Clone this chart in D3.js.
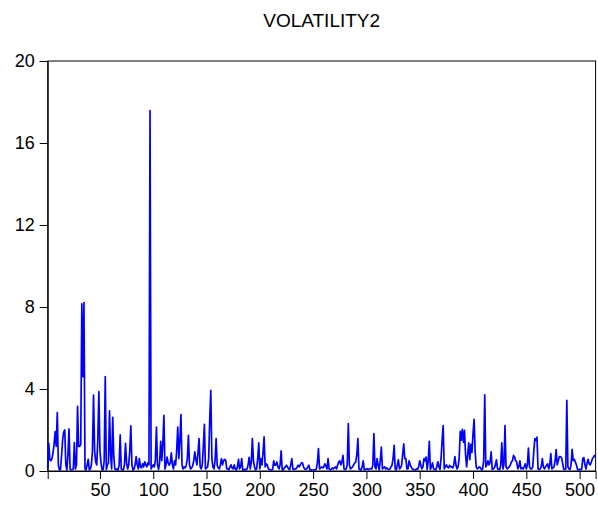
<!DOCTYPE html>
<html>
<head>
<meta charset="utf-8">
<script src="https://cdn.jsdelivr.net/npm/d3@7"></script>
<style>
  html, body { margin: 0; padding: 0; background: #ffffff; }
  svg { display: block; }
  text { font-family: "Liberation Sans", Arial, sans-serif; fill: #000; }
</style>
</head>
<body>
<svg id="chart" width="598" height="508"></svg>
<script>
// Series values, observations 1..515, split in blocks of 100
const vol001 = [
  0.15,1.35,0.55,0.5,0.6,0.9,1.3,1.92,1.2,2.85,
  0.3,0.05,0.08,0.73,1.5,1.9,2.0,0.3,0.05,0.8,
  2.05,0.1,0.05,0.06,0.1,1.38,0.1,0.3,3.15,1.2,
  1.2,1.3,8.15,4.6,8.22,0.1,0.05,0.3,0.57,0.05,
  0.1,0.3,1.0,3.7,1.0,0.45,0.3,1.5,3.87,1.0,
  0.4,0.06,0.06,0.5,4.6,0.06,0.3,0.4,2.94,0.8,
  0.1,2.62,0.7,0.1,0.05,0.1,0.05,0.3,1.76,0.1,
  0.05,0.06,0.3,1.35,0.4,0.1,0.3,1.0,2.2,0.3,
  0.05,0.1,0.3,0.7,0.3,0.1,0.6,0.2,0.15,0.35,
  0.2,0.45,0.3,0.2,0.4,0.3,17.58,0.1,0.2,0.3
];
const vol101 = [
  0.2,0.5,2.14,0.3,0.08,0.4,1.45,0.5,1.3,2.71,
  0.1,0.3,0.68,0.4,0.28,0.4,0.88,0.3,0.1,0.5,
  0.3,1.0,2.14,0.6,1.5,2.75,0.3,0.1,0.2,0.15,
  0.28,0.6,1.74,0.3,0.1,0.15,0.25,0.5,0.93,0.57,
  0.3,0.9,1.58,0.2,0.1,0.3,1.2,2.28,0.1,0.15,
  0.2,0.6,2.5,3.94,0.6,0.2,0.1,0.5,1.58,0.28,
  0.15,0.1,0.3,0.6,0.3,0.5,0.57,0.52,0.1,0.1,
  0.06,0.2,0.3,0.15,0.1,0.3,0.1,0.05,0.2,0.57,
  0.1,0.2,0.6,0.05,0.05,0.08,0.05,0.1,0.3,0.67,
  0.1,0.4,1.58,0.5,0.2,0.05,0.1,0.6,1.37,0.1
];
const vol201 = [
  0.6,0.3,0.9,1.66,0.2,0.35,0.3,0.1,0.08,0.05,
  0.05,0.06,0.5,0.28,0.3,0.44,0.2,0.1,0.3,0.98,
  0.05,0.06,0.15,0.2,0.28,0.2,0.1,0.08,0.3,0.6,
  0.1,0.08,0.1,0.1,0.2,0.28,0.2,0.3,0.4,0.4,
  0.2,0.1,0.08,0.1,0.2,0.28,0.05,0.06,0.05,0.05,
  0.06,0.05,0.1,0.4,1.09,0.1,0.15,0.2,0.15,0.2,
  0.35,0.25,0.1,0.6,0.1,0.05,0.08,0.15,0.1,0.15,
  0.2,0.1,0.3,0.44,0.5,0.3,0.44,0.76,0.1,0.08,
  0.1,0.3,2.31,0.3,0.1,0.15,0.2,0.3,0.4,0.44,
  0.8,1.58,0.1,0.08,0.05,0.2,0.5,0.05,0.08,0.1
];
const vol301 = [
  0.1,0.08,0.1,0.12,0.1,0.3,1.82,0.2,0.1,0.6,
  0.3,0.05,0.5,1.17,0.1,0.15,0.2,0.1,0.15,0.1,
  0.08,0.1,0.2,0.28,0.6,1.25,0.1,0.05,0.3,0.55,
  0.1,0.15,0.28,0.8,1.33,0.6,0.6,0.1,0.1,0.5,
  0.3,0.2,0.1,0.08,0.05,0.06,0.1,0.08,0.2,0.5,
  0.3,0.1,0.2,0.6,0.5,0.68,0.08,0.5,1.45,0.08,
  0.2,0.4,0.1,0.08,0.05,0.2,0.45,0.2,0.08,0.6,
  1.5,2.22,0.1,0.2,0.3,0.2,0.15,0.28,0.2,0.2,
  0.15,0.3,0.7,0.3,0.1,0.2,0.6,1.93,1.5,2.03,
  1.4,1.98,0.8,0.2,0.8,1.37,0.55,1.3,0.9,1.8
];
const vol401 = [
  2.52,0.95,0.2,0.1,0.15,0.2,0.15,0.06,0.08,0.5,
  3.72,0.2,0.3,0.5,0.3,0.44,0.93,0.08,0.1,0.15,
  0.3,0.55,0.1,0.08,0.06,0.3,1.37,0.1,0.3,2.22,
  0.2,0.1,0.15,0.2,0.3,0.44,0.5,0.76,0.68,0.5,
  0.44,0.1,0.2,0.5,0.1,0.15,0.1,0.2,0.35,0.1,
  0.3,1.12,0.2,0.1,0.1,0.2,0.95,1.58,1.5,1.65,
  0.1,0.08,0.1,0.2,0.6,0.2,0.1,0.2,0.28,0.35,
  0.1,0.3,0.85,0.1,0.15,0.2,0.5,1.04,0.3,0.5,
  0.7,0.7,0.65,0.4,0.1,0.08,0.1,3.45,0.2,0.1,
  0.08,0.3,1.06,0.5,0.57,0.44,0.3,0.08,0.06,0.08
];
const vol501 = [
  0.06,0.1,0.6,0.65,0.3,0.1,0.4,0.57,0.35,0.3,
  0.44,0.6,0.67,0.76,0.7
];

const xTicks = [50, 100, 150, 200, 250, 300, 350, 400, 450, 500];
const yTicks = [0, 4, 8, 12, 16, 20];
const chartTitle = "VOLATILITY2";

(function drawChart() {
  const values = [].concat(vol001, vol101, vol201, vol301, vol401, vol501);
  const series = values.map((v, i) => ({ obs: i + 1, v }));

  const svg = d3.select("#chart");
  const plotLeft = 47.7, plotRight = 595.6, plotTop = 61, plotBottom = 471;
  const labelFont = "'Liberation Sans', Arial, sans-serif";

  const x = d3.scaleLinear().domain([1, series.length]).range([plotLeft, plotRight]);
  const y = d3.scaleLinear().domain([0, 20]).range([plotBottom, plotTop]);

  // Plot frame
  svg.append("rect")
    .attr("x", plotLeft).attr("y", plotTop)
    .attr("width", plotRight - plotLeft).attr("height", plotBottom - plotTop)
    .attr("fill", "none").attr("stroke", "#000").attr("stroke-width", 1);

  // Y axis
  const yAxis = svg.append("g")
    .attr("transform", `translate(${plotLeft},0)`)
    .call(d3.axisLeft(y).tickValues(yTicks).tickSize(8).tickPadding(5).tickFormat(d3.format("d")));
  yAxis.select(".domain").attr("stroke", "#000");
  yAxis.selectAll(".tick line").attr("stroke", "#000");
  yAxis.selectAll(".tick text")
    .style("font-family", labelFont)
    .style("font-size", "18px").attr("fill", "#000");

  // X axis
  const xAxis = svg.append("g")
    .attr("transform", `translate(0,${plotBottom})`)
    .call(d3.axisBottom(x).tickValues(xTicks).tickSize(8).tickPadding(4).tickFormat(d3.format("d")));
  xAxis.select(".domain").attr("stroke", "#000");
  xAxis.selectAll(".tick line").attr("stroke", "#000");
  xAxis.selectAll(".tick text")
    .style("font-family", labelFont)
    .style("font-size", "18px").attr("fill", "#000");

  // Series line
  const line = d3.line()
    .x(d => x(d.obs))
    .y(d => y(d.v));

  svg.append("path")
    .datum(series)
    .attr("fill", "none")
    .attr("stroke", "#0000ff")
    .attr("stroke-width", 1.7)
    .attr("stroke-linejoin", "round")
    .attr("d", line);

  // Title
  svg.append("text")
    .attr("x", (plotLeft + plotRight) / 2)
    .attr("y", 27)
    .attr("text-anchor", "middle")
    .style("font-family", labelFont)
    .style("font-size", "19px")
    .text(chartTitle);
})();
</script>
</body>
</html>
